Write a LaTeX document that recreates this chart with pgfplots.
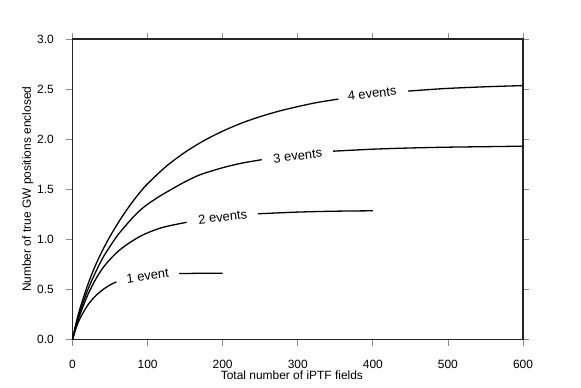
\documentclass[border=0pt]{standalone}
\usepackage{fontspec}
\setmainfont{Liberation Sans}
\usepackage{pgfplots}
\pgfplotsset{compat=1.18}

\begin{document}
\begin{tikzpicture}
\begin{axis}[
    scale only axis,
    width=450.5bp, height=300.5bp,
    xmin=0, xmax=600, ymin=0, ymax=3,
    xtick={0,100,...,600},
    ytick={0,0.5,...,3},
    xtick pos=both, ytick pos=both,
    xticklabel pos=lower, yticklabel pos=left,
    tick align=outside,
    major tick length=6bp,
    tick style={black!45, line width=0.8bp},
    axis line style={black!85, line width=1.6bp},
    /pgf/number format/assume math mode=true,
    tick label style={font=\fontsize{12}{12}\selectfont, inner sep=0pt},
    xticklabel style={anchor=base, yshift=-22.8bp},
    yticklabel style={anchor=east, xshift=-12.5bp,
        /pgf/number format/.cd, fixed, fixed zerofill, precision=1},
    xlabel={Total number of iPTF fields},
    ylabel={Number of true GW positions enclosed},
    every axis x label/.style={at={(axis description cs:0.487,-0.133)}, anchor=base,
        font=\fontsize{12}{12}\selectfont},
    every axis y label/.style={at={(axis description cs:-0.099,0.5)}, rotate=90, anchor=center,
        font=\fontsize{12}{12}\selectfont},
    curve/.style={black, line width=1.3bp, smooth, mark=none},
    clip=false,
]
\coordinate (sw) at (rel axis cs:0,0);
\coordinate (ne) at (rel axis cs:1,1);

% 4 events
\addplot[curve] coordinates {(0,0)(5,0.17)(10,0.31)(20,0.54)(30,0.73)(40,0.89)(50,1.03)(60,1.155)(70,1.27)(80,1.375)(90,1.47)(100,1.555)(125,1.73)(150,1.87)(175,1.985)(200,2.08)(225,2.16)(250,2.225)(275,2.28)(300,2.325)(325,2.365)(354,2.40)};
\addplot[curve] coordinates {(447,2.48)(475,2.495)(500,2.507)(550,2.523)(600,2.535)};
% 3 events
\addplot[curve] coordinates {(0,0)(5,0.16)(10,0.28)(20,0.49)(30,0.66)(40,0.81)(50,0.93)(60,1.04)(70,1.13)(80,1.215)(90,1.29)(100,1.35)(116,1.43)(132,1.50)(150,1.575)(170,1.645)(200,1.715)(225,1.76)(252,1.795)};
\addplot[curve] coordinates {(347,1.88)(400,1.90)(450,1.912)(500,1.92)(550,1.925)(600,1.93)};
% 2 events
\addplot[curve] coordinates {(0,0)(5,0.14)(10,0.25)(20,0.44)(30,0.59)(40,0.71)(50,0.80)(60,0.875)(70,0.935)(80,0.985)(90,1.03)(100,1.065)(116,1.11)(132,1.14)(152,1.17)};
\addplot[curve] coordinates {(247,1.255)(300,1.272)(350,1.281)(400,1.285)};
% 1 event
\addplot[curve] coordinates {(0,0)(5,0.12)(10,0.21)(20,0.34)(30,0.43)(40,0.495)(50,0.545)(58.5,0.575)};
\addplot[curve] coordinates {(142,0.658)(170,0.661)(200,0.662)};

\begin{scope}[every node/.style={font=\fontsize{13}{13}\selectfont, inner sep=0pt}]
\node[rotate=6.5] at (axis cs:399,2.455) {4 events};
\node[rotate=7] at (axis cs:300,1.835) {3 events};
\node[rotate=7] at (axis cs:200,1.225) {2 events};
\node[rotate=7.5] at (axis cs:100,0.635) {1 event};
\end{scope}
\end{axis}
\path ([shift={(-72.5bp,-48.5bp)}]sw) rectangle ([shift={(58bp,39bp)}]ne);
\end{tikzpicture}
\end{document}
